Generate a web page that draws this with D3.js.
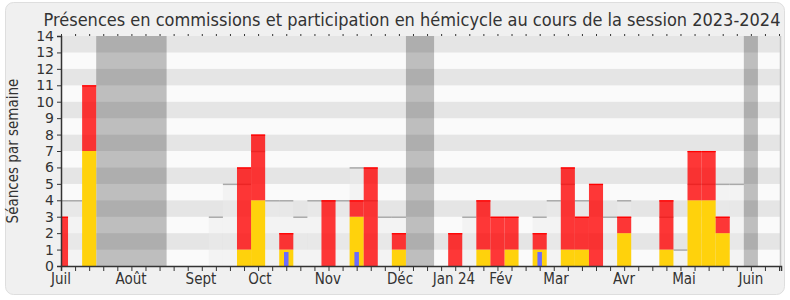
<!DOCTYPE html>
<html>
<head>
<meta charset="utf-8">
<script src="https://cdn.jsdelivr.net/npm/d3@7"></script>
<style>
  html, body { margin: 0; padding: 0; background: #ffffff; }
  svg text { font-family: "DejaVu Sans Condensed", "DejaVu Sans", sans-serif; font-stretch: condensed; fill: #333; }
</style>
</head>
<body>
<div id="chart"></div>
<script>
// weekly values, one per week of the session (week 0 = first week of July 2023)
const commission = [0,0,7,0,0,0,0,0,0,0, 0,0,0,1,4,0,1,0,0,0, 0,3,0,0,1,0,0,0,0,0, 1,0,1,0,1,0,1,1,0,0, 2,0,0,1,0,4,4,2,0,0, 0,0];
const hemicycle  = [3,0,4,0,0,0,0,0,0,0, 0,0,0,5,4,0,1,0,0,4, 0,1,6,0,1,0,0,0,2,0, 3,3,2,0,1,0,5,2,5,0, 1,0,0,3,0,3,3,1,0,0, 0,0];
const questions  = [0,0,0,0,0,0,0,0,0,0, 0,0,0,0,0,0,0.85,0,0,0, 0,0.85,0,0,0,0,0,0,0,0, 0,0,0,0,0.85,0,0,0,0,0, 0,0,0,0,0,0,0,0,0,0, 0,0];
const mediane    = [4,4,null,null,null,null,null,null,null,null, null,3,5,5,7,4,4,3,4,4, 4,6,4,3,3,null,null,null,null,3, null,null,null,null,3,4,5,4,null,3, 4,null,null,3,1,5,5,5,5,null, null,null];
// vacances parlementaires (first and last week)
const vacStart = [3, 25, 49];
const vacEnd   = [7, 26, 49];
// month labels and the week they sit on
const monthLabels = ["Juil","Août","Sept","Oct","Nov","Déc","Jan 24","Fév","Mar","Avr","Mai","Juin"];
const monthWeeks  = [0, 4.97, 9.94, 14.13, 18.96, 24.08, 27.91, 31.25, 35.16, 39.99, 44.25, 49];
const yTicks = d3.range(0, 15);

const width = 790, height = 300;
const plot = { left: 61, right: 781, top: 36, bottom: 266 };

const svg = d3.select("#chart").append("svg")
  .attr("width", width)
  .attr("height", height);

// panel
svg.append("rect")
  .attr("x", 5.5).attr("y", 2.5)
  .attr("width", 779).attr("height", 292)
  .attr("rx", 8)
  .attr("fill", "#f0f0f0")
  .attr("stroke", "#dedede");

const x = d3.scaleLinear().domain([0, 51.14]).range([plot.left, plot.right]);
const y = d3.scaleLinear().domain([0, 14]).range([plot.bottom, plot.top]);
const bw = x(1) - x(0);

svg.append("clipPath").attr("id", "clip")
  .append("rect")
  .attr("x", plot.left).attr("y", plot.top)
  .attr("width", plot.right - plot.left).attr("height", plot.bottom - plot.top);

const g = svg.append("g").attr("clip-path", "url(#clip)");

// stripes
g.selectAll("rect.stripe")
  .data(d3.range(0, 14))
  .join("rect")
  .attr("class", "stripe")
  .attr("x", plot.left).attr("width", plot.right - plot.left)
  .attr("y", d => y(d + 1))
  .attr("height", d => y(d) - y(d + 1))
  .attr("fill", d => d % 2 ? "#e5e5e5" : "#fafafa");

// median columns
const med = d3.range(52).filter(i => mediane[i] !== null);
g.selectAll("rect.med")
  .data(med)
  .join("rect")
  .attr("class", "med")
  .attr("x", i => x(i) - bw / 2)
  .attr("width", bw)
  .attr("y", i => y(mediane[i]))
  .attr("height", i => y(0) - y(mediane[i]))
  .attr("fill", "rgba(236,236,236,0.45)");

g.selectAll("line.med")
  .data(med)
  .join("line")
  .attr("class", "med")
  .attr("x1", i => x(i) - bw / 2)
  .attr("x2", i => x(i) + bw / 2)
  .attr("y1", i => y(mediane[i]) + 0.5)
  .attr("y2", i => y(mediane[i]) + 0.5)
  .attr("stroke", "#a9a9a9")
  .attr("stroke-width", 1.5);

// vacations
g.selectAll("rect.vac")
  .data(d3.range(vacStart.length))
  .join("rect")
  .attr("class", "vac")
  .attr("x", i => x(vacStart[i] - 0.5))
  .attr("width", i => x(vacEnd[i] + 0.5) - x(vacStart[i] - 0.5))
  .attr("y", plot.top)
  .attr("height", plot.bottom - plot.top)
  .attr("fill", "rgba(0,0,0,0.24)");

// commission (yellow)
const com = d3.range(52).filter(i => commission[i] > 0);
g.selectAll("rect.com")
  .data(com)
  .join("rect")
  .attr("class", "com")
  .attr("x", i => x(i) - bw / 2)
  .attr("width", bw)
  .attr("y", i => y(commission[i]))
  .attr("height", i => y(0) - y(commission[i]))
  .attr("fill", "#ffd20c");

// hemicycle (red, stacked)
const hem = d3.range(52).filter(i => hemicycle[i] > 0);
g.selectAll("rect.hem")
  .data(hem)
  .join("rect")
  .attr("class", "hem")
  .attr("x", i => x(i) - bw / 2)
  .attr("width", bw)
  .attr("y", i => y(commission[i] + hemicycle[i]))
  .attr("height", i => y(commission[i]) - y(commission[i] + hemicycle[i]))
  .attr("fill", "rgba(255,0,0,0.78)");

g.selectAll("line.hem")
  .data(hem)
  .join("line")
  .attr("class", "hem")
  .attr("x1", i => x(i) - bw / 2)
  .attr("x2", i => x(i) + bw / 2)
  .attr("y1", i => y(commission[i] + hemicycle[i]) + 0.6)
  .attr("y2", i => y(commission[i] + hemicycle[i]) + 0.6)
  .attr("stroke", "#ff0000")
  .attr("stroke-width", 1.3);

// questions (blue)
const qst = d3.range(52).filter(i => questions[i] > 0);
g.selectAll("rect.qst")
  .data(qst)
  .join("rect")
  .attr("class", "qst")
  .attr("x", i => x(i) - bw * 0.16)
  .attr("width", bw * 0.32)
  .attr("y", i => y(questions[i]))
  .attr("height", i => y(0) - y(questions[i]))
  .attr("fill", "#6b6bff");

// right border of plot
svg.append("line")
  .attr("x1", plot.right - 0.5).attr("x2", plot.right - 0.5)
  .attr("y1", plot.top).attr("y2", plot.bottom)
  .attr("stroke", "#c6c6c6").attr("stroke-width", 1.5);

// axes
const xAxis = svg.append("g")
  .attr("transform", `translate(0,${plot.bottom})`)
  .call(d3.axisBottom(x).tickValues(d3.range(52)).tickSize(5).tickFormat(""));
xAxis.select(".domain").attr("stroke", "#333").attr("stroke-width", 1.5);
xAxis.selectAll(".tick line").attr("stroke", "#333");

const xTop = svg.append("g")
  .attr("transform", `translate(0,${plot.top})`)
  .call(d3.axisTop(x).tickValues(d3.range(52)).tickSize(2).tickFormat(""));
xTop.select(".domain").remove();
xTop.selectAll(".tick line").attr("stroke", "#333");

svg.append("g")
  .selectAll("text")
  .data(d3.range(monthLabels.length))
  .join("text")
  .attr("x", i => x(monthWeeks[i]))
  .attr("y", 284)
  .attr("text-anchor", "middle")
  .style("font-size", "15px")
  .text(i => monthLabels[i]);

const yAxis = svg.append("g")
  .attr("transform", `translate(${plot.left},0)`)
  .call(d3.axisLeft(y).tickValues(yTicks).tickSize(4).tickPadding(3));
yAxis.select(".domain").attr("stroke", "#333").attr("stroke-width", 1.5);
yAxis.selectAll(".tick line").attr("stroke", "#333");
yAxis.selectAll(".tick text")
  .style("font-size", "14px")
  .style("font-family", "'DejaVu Sans', sans-serif")
  .style("font-stretch", "normal")
  .attr("fill", "#333");

// title and y label
svg.append("text")
  .attr("x", 412)
  .attr("y", 26)
  .attr("text-anchor", "middle")
  .style("font-size", "18px")
  .text("Présences en commissions et participation en hémicycle au cours de la session 2023-2024");

svg.append("text")
  .attr("transform", "rotate(-90)")
  .attr("x", -151)
  .attr("y", 18)
  .attr("text-anchor", "middle")
  .style("font-size", "15px")
  .text("Séances par semaine");
</script>
</body>
</html>
